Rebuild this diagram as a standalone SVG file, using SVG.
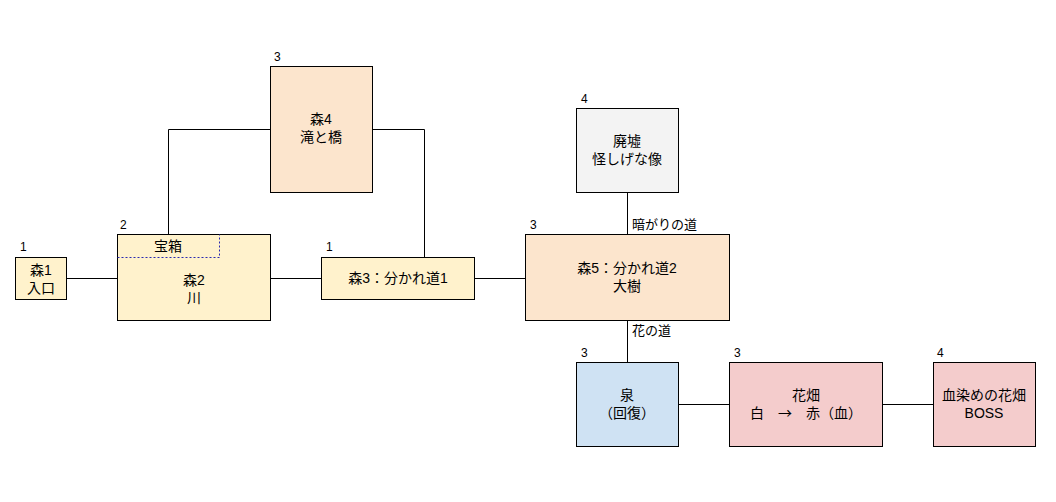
<svg xmlns="http://www.w3.org/2000/svg" width="1056" height="502" viewBox="0 0 1056 502">
<style>
text{font-family:"Liberation Sans","Noto Sans CJK JP",sans-serif;font-size:14px;fill:#000}
.c{text-anchor:middle}
.n{font-size:12px}
.j{font-family:"Noto Sans CJK JP",sans-serif}
.box{stroke:#000;stroke-width:1}
.line{stroke:#000;stroke-width:1;fill:none}
</style>
<rect width="1056" height="502" fill="#fff"/>
<g id="connectors">
<path class="line" d="M66.5 278.5H117.5"/>
<path class="line" d="M168.5 234.5V129.5H270.5"/>
<path class="line" d="M372.5 129.5H424.5V257.5"/>
<path class="line" d="M270.5 278.5H321.5"/>
<path class="line" d="M474.5 278.5H525.5"/>
<path class="line" d="M627.5 192.5V234.5"/>
<text x="632" y="229" style="font-size:13px">暗がりの道</text>
<path class="line" d="M627.5 320.5V362.5"/>
<text x="632" y="335" style="font-size:13px">花の道</text>
<path class="line" d="M678.5 404.5H729.5"/>
<path class="line" d="M882.5 404.5H933.5"/>
</g>
<g id="mori1">
<rect class="box" x="15.5" y="257.5" width="51" height="42" fill="#fff2cc"/>
<text class="n" x="20" y="251">1</text>
<text class="c" x="41" y="275">森1</text>
<text class="c" x="41" y="293">入口</text>
</g>
<g id="mori2">
<rect class="box" x="117.5" y="234.5" width="153" height="86" fill="#fff2cc"/>
<path d="M117.5 257.5H219.5V234.5" fill="none" stroke="#2a2ab0" stroke-width="1" stroke-dasharray="2 2"/>
<text class="n" x="120" y="229">2</text>
<text class="c" x="168" y="251">宝箱</text>
<text class="c" x="194" y="285">森2</text>
<text class="c" x="194" y="303">川</text>
</g>
<g id="mori4">
<rect class="box" x="270.5" y="66.5" width="102" height="126" fill="#fce5cd"/>
<text class="n" x="274" y="61">3</text>
<text class="c" x="321" y="124">森4</text>
<text class="c" x="321" y="142">滝と橋</text>
</g>
<g id="mori3">
<rect class="box" x="321.5" y="257.5" width="153" height="42" fill="#fff2cc"/>
<text class="n" x="326" y="251">1</text>
<text class="c" x="398" y="283">森3：分かれ道1</text>
</g>
<g id="haikyo">
<rect class="box" x="576.5" y="108.5" width="102" height="84" fill="#f3f3f3"/>
<text class="n" x="581" y="103">4</text>
<text class="c" x="627" y="146">廃墟</text>
<text class="c" x="627" y="164">怪しげな像</text>
</g>
<g id="mori5">
<rect class="box" x="525.5" y="234.5" width="204" height="86" fill="#fce5cd"/>
<text class="n" x="530" y="229">3</text>
<text class="c" x="627" y="273">森5：分かれ道2</text>
<text class="c" x="627" y="291">大樹</text>
</g>
<g id="izumi">
<rect class="box" x="576.5" y="362.5" width="102" height="84" fill="#cfe2f3"/>
<text class="n" x="581" y="357">3</text>
<text class="c" x="627" y="400">泉</text>
<text class="c" x="627" y="418">（回復）</text>
</g>
<g id="hanabatake">
<rect class="box" x="729.5" y="362.5" width="153" height="84" fill="#f4cccc"/>
<text class="n" x="734" y="357">3</text>
<text class="c" x="806" y="400">花畑</text>
<text class="c j" x="806" y="418">白　→　赤（血）</text>
</g>
<g id="boss">
<rect class="box" x="933.5" y="362.5" width="102" height="84" fill="#f4cccc"/>
<text class="n" x="937" y="357">4</text>
<text class="c" x="984" y="400">血染めの花畑</text>
<text class="c" x="984" y="418">BOSS</text>
</g>
</svg>
